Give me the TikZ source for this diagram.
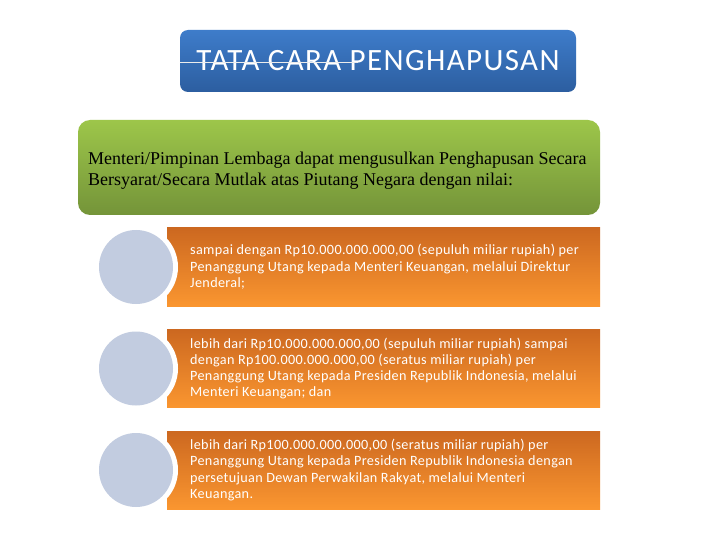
\documentclass[tikz,border=0pt]{standalone}
\usepackage{fontspec}
\setmainfont{Liberation Serif}
\newfontfamily\calibriwide[LetterSpace=2.4]{Carlito}
\newfontfamily\calibrititle[LetterSpace=4.5]{Carlito}
\usepackage{tikz}
\usetikzlibrary{positioning, shapes, calc}
\definecolor{titletop}{RGB}{62,124,202}
\definecolor{titlebot}{RGB}{44,94,160}
\definecolor{introtop}{RGB}{157,198,74}
\definecolor{introbot}{RGB}{116,148,57}
\definecolor{steptop}{RGB}{204,104,32}
\definecolor{stepbot}{RGB}{250,150,48}
\definecolor{discblue}{RGB}{194,204,224}

\begin{document}
\begin{tikzpicture}
        [
            x=1pt, y=-1pt,
            titlebox/.style={rectangle, rounded corners=8pt, top color=titletop,
                             bottom color=titlebot, text=white,
                             font=\calibrititle\fontsize{31}{34}\selectfont},
            introbox/.style={rectangle, rounded corners=12pt, top color=introtop,
                             bottom color=introbot},
            introtext/.style={anchor=west, align=left, inner sep=0pt,
                              font=\fontsize{18}{21}\selectfont},
            stepfill/.style={top color=steptop, bottom color=stepbot},
            disc/.style={circle, fill=discblue, minimum size=74pt, inner sep=0pt},
            itemtext/.style={anchor=west, align=left, inner sep=0pt, text=white,
                             font=\calibriwide\fontsize{14.2}{16.3}\selectfont}
        ]
        \useasboundingbox (0,0) rectangle (720,540);
        \fill [white] (0,0) rectangle (720,540);
        \node (title) [titlebox, minimum width=396pt, minimum height=62pt]
            at (378,61) {TATA CARA PENGHAPUSAN};
        \coordinate (strike) at (358,62);
        \draw [white!85!gray, line width=0.6pt] (title.west |- strike) -- (strike);
        \node (intro) [introbox, minimum width=522pt, minimum height=95pt]
            at (339,167.5) {};
        \node (lead) [introtext] at (88,170.5)
            {Menteri/Pimpinan Lembaga dapat mengusulkan Penghapusan Secara\\
            Bersyarat/Secara Mutlak atas Piutang Negara dengan nilai:};
        \foreach \cy/\txt [count = \i] in {267/{sampai dengan Rp10.000.000.000,00 (sepuluh miliar rupiah) per\\
                Penanggung Utang kepada Menteri Keuangan, melalui Direktur\\ Jenderal;},
            368.5/{lebih dari Rp10.000.000.000,00 (sepuluh miliar rupiah) sampai\\
                dengan Rp100.000.000.000,00 (seratus miliar rupiah) per\\
                Penanggung Utang kepada Presiden Republik Indonesia, melalui\\
                Menteri Keuangan; dan},
            470/{lebih dari Rp100.000.000.000,00 (seratus miliar rupiah) per\\
                Penanggung Utang kepada Presiden Republik Indonesia dengan\\
                persetujuan Dewan Perwakilan Rakyat, melalui Menteri\\
                Keuangan.}}{
            \shade [stepfill] (167,\cy-39) rectangle (600,\cy+39);
            \fill [white] (136,\cy) circle (42);
            \node (dot\i) [disc] at (136,\cy) {};
            \node (item\i) [itemtext] at (190,\cy) {\txt};
        }
    \end{tikzpicture}
\end{document}
